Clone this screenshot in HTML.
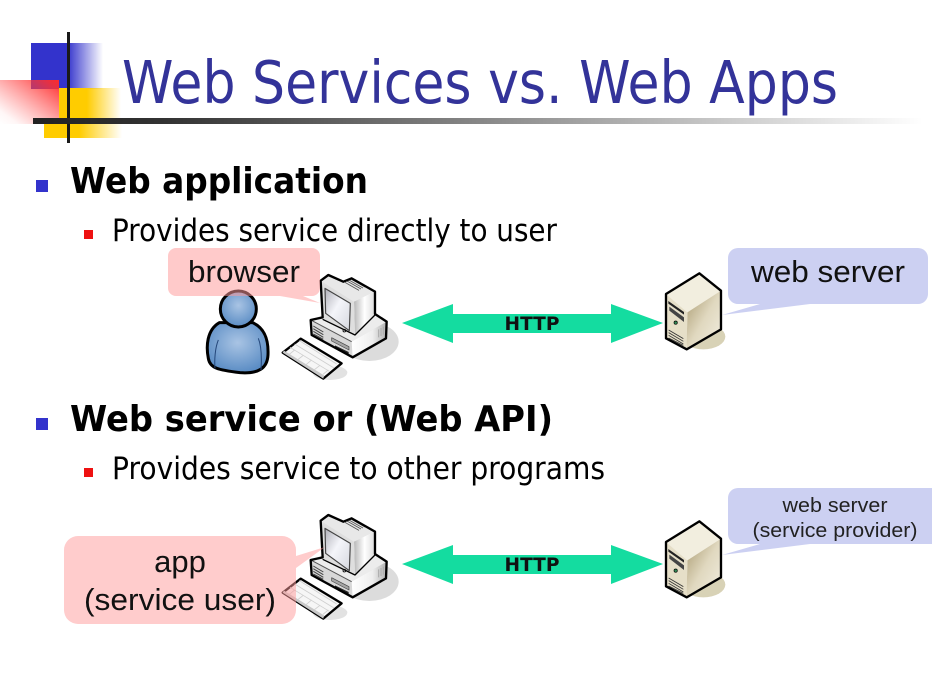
<!DOCTYPE html>
<html>
<head>
<meta charset="utf-8">
<style>
html,body{margin:0;padding:0;background:#fff;width:932px;height:699px;overflow:hidden}
svg{display:block}
text{font-family:"Liberation Sans",sans-serif}
text.t{font-family:"DejaVu Sans","Liberation Sans",sans-serif}
</style>
</head>
<body>
<svg width="932" height="699" viewBox="0 0 932 699" xmlns="http://www.w3.org/2000/svg">
<defs>
<linearGradient id="gb" x1="0" x2="1" y1="0" y2="0"><stop offset="0" stop-color="#3333cc"/><stop offset=".5" stop-color="#3333cc"/><stop offset="1" stop-color="#3333cc" stop-opacity="0"/></linearGradient>
<linearGradient id="gy" x1="0" x2="1" y1="0" y2="0"><stop offset="0" stop-color="#ffcc00"/><stop offset=".45" stop-color="#ffcc00"/><stop offset="1" stop-color="#ffcc00" stop-opacity="0"/></linearGradient>
<linearGradient id="gr" x1="1" x2="0" y1="0" y2="1"><stop offset="0" stop-color="#ff2a2a"/><stop offset=".85" stop-color="#ff5555" stop-opacity=".05"/><stop offset="1" stop-color="#ff5555" stop-opacity="0"/></linearGradient>
<linearGradient id="gk" x1="0" x2="1" y1="0" y2="0"><stop offset="0" stop-color="#222"/><stop offset=".15" stop-color="#333"/><stop offset="1" stop-color="#333" stop-opacity="0"/></linearGradient>
<linearGradient id="gs" x1="0" x2="1" y1="0" y2="1"><stop offset="0" stop-color="#b0b0b8"/><stop offset=".45" stop-color="#f4f5fa"/><stop offset="1" stop-color="#d5d7de"/></linearGradient>
<linearGradient id="gm" x1="0" x2="1" y1="0" y2="0"><stop offset="0" stop-color="#b8b8b8"/><stop offset=".5" stop-color="#fff"/><stop offset="1" stop-color="#dcdcdc"/></linearGradient>
<linearGradient id="gm2" x1="0" x2="1" y1="0" y2="0"><stop offset="0" stop-color="#fff"/><stop offset=".6" stop-color="#eee"/><stop offset="1" stop-color="#b0b0b0"/></linearGradient>
<radialGradient id="gp" cx=".5" cy=".4" r=".6"><stop offset="0" stop-color="#a9c4e4"/><stop offset="1" stop-color="#5a8cc4"/></radialGradient>
<linearGradient id="gsr" x1="0" x2="1" y1="0" y2="1"><stop offset="0" stop-color="#a8996f"/><stop offset=".5" stop-color="#e0d8bf"/><stop offset="1" stop-color="#f3efe2"/></linearGradient>

<g id="computer">
  <g transform="translate(280,270) scale(.3333)" stroke-linejoin="round">
    <ellipse cx="268" cy="215" rx="88" ry="58" fill="#dcdcdc"/>
    <ellipse cx="150" cy="308" rx="52" ry="22" fill="#e2e2e2"/>
    <!-- base faces -->
    <polygon points="92,150 128,135 285,130 320,155 215,215" fill="#ececec"/>
    <polygon points="92,150 215,215 218,262 95,195" fill="#d8d8d8"/>
    <polygon points="215,215 320,155 318,205 218,262" fill="url(#gm2)"/>
    <path d="M92 150L215 215" stroke="#555" stroke-width="3" fill="none"/>
    <g stroke="#444" stroke-width="3"><path d="M100 168l30 18M100 176l30 18M100 184l30 18M100 192l30 16"/></g>
    <polygon points="155,203 207,230 207,240 155,213" fill="#a5a5a5" stroke="#444" stroke-width="2"/>
    <polygon points="165,226 206,246 206,254 165,234" fill="#222"/>
    <g stroke="#aaa" stroke-width="3"><path d="M296 178v24M303 174v24M310 170v24"/></g>
    <!-- monitor -->
    <polygon points="122,32 145,15 190,35 215,25 285,65 222,95" fill="#e8e8e8"/>
    <polygon points="222,95 285,65 285,135 225,195" fill="url(#gm)"/>
    <polygon points="122,32 222,95 225,195 128,148" fill="#dedede"/>
    <polygon points="135,55 211,100 208,182 137,130" fill="url(#gs)" stroke="#444" stroke-width="3.5"/>
    <circle cx="193" cy="182" r="4" fill="#fff" stroke="#000" stroke-width="2.5"/>
    <g stroke="#555" stroke-width="2.5"><path d="M195 37l42 24M201 33l42 24M207 30l42 24M213 27l42 24"/></g>
    <!-- outline -->
    <path d="M122 32L145 15L190 35L215 25L285 65L285 132L320 155L318 205L218 262L95 195L92 150L128 142Z" fill="none" stroke="#000" stroke-width="7"/>
    <path d="M128 148L225 195L285 135" fill="none" stroke="#000" stroke-width="4"/>
    <!-- keyboard -->
    <polygon points="8,248 62,206 185,280 130,326" fill="#f6f6f6" stroke="#000" stroke-width="7"/>
    <polygon points="8,248 130,326 132,316 12,242" fill="#c8c8c8"/>
    <g stroke="#cfcfcf" stroke-width="2.5" fill="none"><path d="M30 232l118 72M44 222l118 72M58 212l112 70M44 240l-16 13M70 256l-18 14M95 270l-18 15M120 286l-18 14M145 300l-16 13"/></g>
  </g>
</g>

<g id="server">
  <g transform="translate(640,240) scale(.3333)" stroke-linejoin="round">
    <ellipse cx="190" cy="290" rx="66" ry="38" fill="#d8d2b6"/>
    <polygon points="78,162 178,100 243,152 142,217" fill="#f2eedf"/>
    <polygon points="142,217 243,152 243,268 140,328" fill="url(#gsr)"/>
    <polygon points="78,162 142,217 140,328 78,295" fill="#e6dfc8"/>
    <polygon points="85,183 132,216 132,224 85,191" fill="#222"/>
    <polygon points="88,200 132,232 132,246 88,212" fill="#444"/>
    <circle cx="107" cy="248" r="5" fill="#385" stroke="#000" stroke-width="2"/>
    <g stroke="#333" stroke-width="2.5"><path d="M86 270l44 26M86 278l44 26M86 286l44 26M86 294l44 22"/></g>
    <polygon points="78,162 178,100 243,152 243,268 140,328 78,295" fill="none" stroke="#000" stroke-width="7"/>
  </g>
</g>
</defs>

<!-- logo -->
<rect x="31" y="43" width="72" height="46" fill="url(#gb)"/>
<rect x="59" y="88" width="62" height="32" fill="url(#gy)"/>
<rect x="44" y="118" width="78" height="20" fill="url(#gy)"/>
<rect x="0" y="80" width="59" height="44" fill="url(#gr)"/>
<rect x="67" y="32" width="3" height="111" fill="#1a1a1a"/>
<rect x="33" y="118" width="890" height="6" fill="url(#gk)"/>

<!-- title -->
<text class="t" x="122" y="103" font-size="59" fill="#333399" textLength="716" lengthAdjust="spacingAndGlyphs">Web Services vs. Web Apps</text>

<!-- bullets -->
<rect x="36" y="180" width="12" height="12" fill="#3333cc"/>
<text class="t" x="70" y="193" font-size="36" font-weight="bold" textLength="298" lengthAdjust="spacingAndGlyphs">Web application</text>
<rect x="84" y="230" width="9" height="9" fill="#ee1111"/>
<text class="t" x="112" y="241" font-size="31" textLength="445" lengthAdjust="spacingAndGlyphs">Provides service directly to user</text>
<rect x="36" y="418" width="12" height="12" fill="#3333cc"/>
<text class="t" x="70" y="431" font-size="36" font-weight="bold" textLength="483" lengthAdjust="spacingAndGlyphs">Web service or (Web API)</text>
<rect x="84" y="468" width="9" height="9" fill="#ee1111"/>
<text class="t" x="112" y="479" font-size="31" textLength="493" lengthAdjust="spacingAndGlyphs">Provides service to other programs</text>

<!-- person -->
<g transform="translate(160,240) scale(.3333)">
  <path d="M178 248C140 270 138 320 145 355C150 385 175 390 240 398C295 402 322 385 324 345C326 300 315 265 278 248Z" fill="url(#gp)" stroke="#000" stroke-width="9" stroke-linejoin="round"/>
  <path d="M175 300C165 325 163 360 165 385M295 295C305 320 305 360 303 390" fill="none" stroke="#24477a" stroke-width="3"/>
  <circle cx="235" cy="207" r="54" fill="url(#gp)" stroke="#000" stroke-width="9"/>
</g>

<!-- computers -->
<use href="#computer"/>
<use href="#computer" transform="translate(0,240)"/>

<!-- servers -->
<use href="#server"/>
<use href="#server" transform="translate(0,248)"/>

<!-- callouts -->
<path d="M176 248H312a8 8 0 0 1 8 8V288a8 8 0 0 1 -8 8H303L320 303L280 296H176a8 8 0 0 1 -8 -8V256a8 8 0 0 1 8 -8Z" fill="#ff9999" fill-opacity=".52"/>
<text x="244" y="282" font-size="31" text-anchor="middle" textLength="112" lengthAdjust="spacingAndGlyphs" fill="#111">browser</text>

<path d="M738 248H918a10 10 0 0 1 10 10V294a10 10 0 0 1 -10 10H810L722 315L760 304H738a10 10 0 0 1 -10 -10V258a10 10 0 0 1 10 -10Z" fill="#ccd0f2"/>
<text x="828" y="282" font-size="31" text-anchor="middle" textLength="154" lengthAdjust="spacingAndGlyphs" fill="#111">web server</text>

<path d="M78 536H282a14 14 0 0 1 14 14V556L325 547L296 568V610a14 14 0 0 1 -14 14H78a14 14 0 0 1 -14 -14V550a14 14 0 0 1 14 -14Z" fill="#ff9999" fill-opacity=".5"/>
<text x="180" y="572" font-size="31" text-anchor="middle" fill="#111">app</text>
<text x="180" y="610" font-size="31" text-anchor="middle" textLength="192" lengthAdjust="spacingAndGlyphs" fill="#111">(service user)</text>

<path d="M738 488H932V544H810L722 555L760 544H738a10 10 0 0 1 -10 -10V498a10 10 0 0 1 10 -10Z" fill="#ccd0f2"/>
<text x="835" y="512" font-size="20" text-anchor="middle" textLength="105" lengthAdjust="spacingAndGlyphs" fill="#222">web server</text>
<text x="835" y="537" font-size="20" text-anchor="middle" textLength="165" lengthAdjust="spacingAndGlyphs" fill="#222">(service provider)</text>

<!-- arrows -->
<polygon points="402,323 453,304 453,314 611,314 611,304 663,323 611,343 611,333 453,333 453,343" fill="#14dca0"/>
<text class="t" x="532" y="330" font-size="19" font-weight="bold" text-anchor="middle" textLength="55" lengthAdjust="spacingAndGlyphs" fill="#111">HTTP</text>
<polygon points="402,564 453,545 453,555 611,555 611,545 663,564 611,584 611,574 453,574 453,584" fill="#14dca0"/>
<text class="t" x="532" y="571" font-size="19" font-weight="bold" text-anchor="middle" textLength="55" lengthAdjust="spacingAndGlyphs" fill="#111">HTTP</text>
</svg>
</body>
</html>
